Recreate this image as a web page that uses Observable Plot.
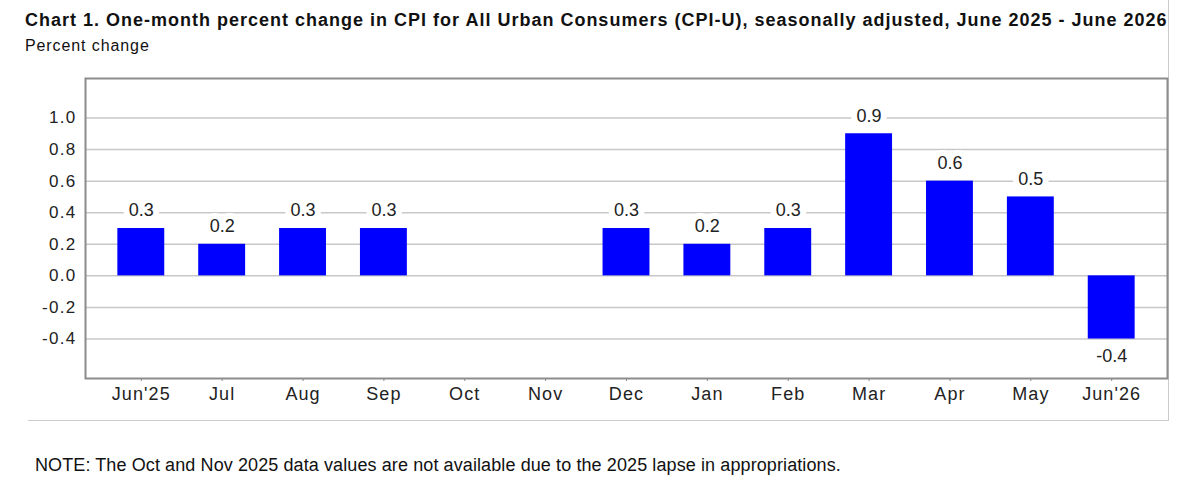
<!DOCTYPE html>
<html>
<head>
<meta charset="utf-8">
<script src="https://cdn.jsdelivr.net/npm/d3@7"></script>
<script src="https://cdn.jsdelivr.net/npm/@observablehq/plot@0.6"></script>
<style>
  html, body { margin: 0; padding: 0; background: #fff; }
  #wrap { position: relative; width: 1200px; height: 501px; font-family: "Liberation Sans", Arial, sans-serif; color: #111; }
  #title { position: absolute; left: 25px; top: 10px; font-size: 18px; font-weight: bold; white-space: nowrap; letter-spacing: 1px; }
  #subtitle { position: absolute; left: 25px; top: 37px; font-size: 16px; white-space: nowrap; letter-spacing: 0.9px; }
  #box { position: absolute; left: 28px; top: 0px; width: 1141px; height: 421px; border-right: 1px solid #ccc; border-bottom: 1px solid #ccc; box-sizing: border-box; }
  #chart { position: absolute; left: 0; top: 60px; }
  #note { position: absolute; left: 35px; top: 455px; font-size: 18px; white-space: nowrap; letter-spacing: 0.1px; }
</style>
</head>
<body>
<div id="wrap">
  <div id="box"></div>
  <div id="title">Chart 1. One-month percent change in CPI for All Urban Consumers (CPI-U), seasonally adjusted, June 2025 - June 2026</div>
  <div id="subtitle">Percent change</div>
  <div id="chart"></div>
  <div id="note">NOTE: The Oct and Nov 2025 data values are not available due to the 2025 lapse in appropriations.</div>
</div>
<script>
const months = ["Jun'25", "Jul", "Aug", "Sep", "Oct", "Nov", "Dec", "Jan", "Feb", "Mar", "Apr", "May", "Jun'26"];
const values = [0.3, 0.2, 0.3, 0.3, null, null, 0.3, 0.2, 0.3, 0.9, 0.6, 0.5, -0.4];
const yTicks = [-0.4, -0.2, 0.0, 0.2, 0.4, 0.6, 0.8, 1.0];

const data = months.map((m, i) => ({month: m, value: values[i]}));
const avail = data.filter(d => d.value != null);

const chart = Plot.plot({
  width: 1200,
  height: 360,
  marginTop: 18,
  marginLeft: 85,
  marginRight: 33,
  marginBottom: 42,
  style: {fontFamily: "'Liberation Sans', Arial, sans-serif", fontSize: "16px", color: "#222", background: "transparent"},
  x: {domain: months, paddingInner: 0.42, paddingOuter: 0.40, round: false, label: null},
  y: {domain: [-0.65, 1.25], label: null},
  marks: [
    Plot.gridY(yTicks, {stroke: "#c8c8c8", strokeOpacity: 1, strokeWidth: 1.5}),
    Plot.barY(avail, {x: "month", y: "value", fill: "#0000ff"}),
    Plot.text(avail.filter(d => d.value >= 0), {x: "month", y: "value", text: d => d.value.toFixed(1), dy: -18, fill: "#222", stroke: "white", strokeWidth: 12, fontSize: 18, ariaLabel: "value label"}),
    Plot.text(avail.filter(d => d.value < 0), {x: "month", y: "value", text: d => d.value.toFixed(1), dy: 17, fill: "#222", stroke: "white", strokeWidth: 12, fontSize: 18, ariaLabel: "value label"}),
    Plot.axisY(yTicks, {tickSize: 0, tickPadding: 9, tickFormat: d => d.toFixed(1), fontSize: 17, fill: "#222"}),
    Plot.axisX({tickSize: 3, tickPadding: 6, fontSize: 18, fill: "#222", stroke: "#888"}),
    Plot.frame({stroke: "#8c8c8c", strokeWidth: 2})
  ]
});
document.getElementById("chart").appendChild(chart);
d3.select(chart).selectAll('[aria-label="y-axis tick label"] text').attr("letter-spacing", "1.3px");
d3.select(chart).selectAll('[aria-label="x-axis tick label"] text').attr("letter-spacing", "1.1px");
d3.select(chart).selectAll('[aria-label="value label"] text').attr("letter-spacing", "1.4px");
</script>
</body>
</html>
